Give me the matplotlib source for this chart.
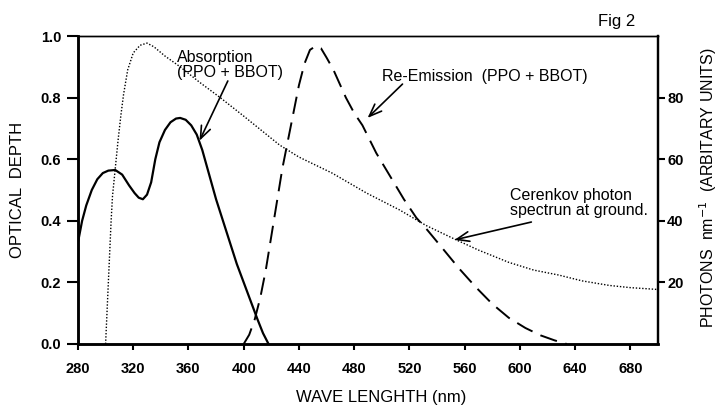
import matplotlib
matplotlib.use('Agg')
import matplotlib.pyplot as plt

plt.rcParams['font.family'] = ['Liberation Sans', 'DejaVu Sans']

# absorption (optical depth, left axis)
abs_wl = [280, 283, 286, 290, 294, 298, 302, 307, 312, 317, 321, 324, 327, 330, 333,
          336, 339, 343, 347, 351, 354, 358, 362, 366, 370, 375, 380, 385, 390, 395,
          400, 405, 410, 414, 418]
abs_od = [0.33, 0.40, 0.45, 0.50, 0.535, 0.555, 0.563, 0.565, 0.55, 0.515, 0.49, 0.475,
          0.47, 0.485, 0.525, 0.60, 0.655, 0.695, 0.72, 0.732, 0.734, 0.728, 0.71, 0.68,
          0.63, 0.55, 0.47, 0.40, 0.33, 0.26, 0.20, 0.14, 0.08, 0.035, 0.0]

# re-emission (arbitrary units, right axis)
em_wl = [400, 404, 408, 412, 416, 420, 424, 428, 432, 436, 440, 444, 448, 452, 456,
         460, 465, 470, 474, 480, 486, 496, 508, 516, 525, 533, 545, 556, 568, 580,
         592, 604, 615, 625, 634]
em_val = [0, 3, 8, 15, 24, 35, 46, 57, 66, 75, 84, 91, 95.5, 96.7, 96, 93, 89, 84, 80,
          75, 71, 62, 53, 47, 41, 37, 30.5, 24.5, 18.5, 13, 8.5, 5.2, 2.8, 1.2, 0]

# Cerenkov photon spectrum at ground (arbitrary units, right axis)
cer_wl = [300, 302, 304, 305, 307, 309, 311, 313, 316, 320, 325, 330, 335, 343, 354,
          368, 383, 400, 426, 440, 464, 489, 513, 532, 553, 570, 592, 610, 628, 645,
          665, 680, 700]
cer_val = [0, 20, 40, 48, 57, 66, 74, 81, 89, 94.5, 97, 97.7, 96.5, 93.5, 90, 85, 80,
           74, 64.6, 60.7, 55.5, 49, 43.5, 38.5, 34, 30.5, 26.5, 24, 22.4, 20.5, 19,
           18.3, 17.7]

x_ticks = [280, 320, 360, 400, 440, 480, 520, 560, 600, 640, 680]
left_ticks = [0.0, 0.2, 0.4, 0.6, 0.8, 1.0]
right_ticks = [20, 40, 60, 80]

fig = plt.figure(figsize=(7.18, 4.07), dpi=100)
ax = fig.add_axes([0.1086, 0.1548, 0.8078, 0.7567])
ax2 = ax.twinx()

ax.plot(abs_wl, abs_od, color='black', lw=1.6)
ax2.plot(em_wl, em_val, color='black', lw=1.4, dashes=(9, 4.5))
ax2.plot(cer_wl, cer_val, color='black', lw=1.0, linestyle=(0, (1, 1.3)))

ax.set_xlim(280, 700)
ax.set_ylim(0, 1.0)
ax2.set_ylim(0, 100)

ax.set_xticks(x_ticks)
ax.set_yticks(left_ticks)
ax.set_yticklabels(['%.1f' % v for v in left_ticks])
ax2.set_yticks(right_ticks)

for lab in ax.get_xticklabels() + ax.get_yticklabels() + ax2.get_yticklabels():
    lab.set_fontweight('bold')
    lab.set_fontsize(10.5)

ax.tick_params(axis='y', direction='out', length=8, width=1.5, pad=4)
ax.tick_params(axis='x', direction='out', length=4, width=1.5, pad=9)
ax2.tick_params(axis='y', direction='out', length=5, width=1.5, pad=1.5)

for a in (ax, ax2):
    a.spines['left'].set_linewidth(1.8)
    a.spines['bottom'].set_linewidth(1.8)
    a.spines['right'].set_linewidth(1.6)
    a.spines['top'].set_linewidth(1.0)

ax.set_xlabel('WAVE LENGHTH (nm)', fontsize=12)
ax.xaxis.set_label_coords(0.522, -0.149)
ax.set_ylabel('OPTICAL  DEPTH', fontsize=12)
ax.yaxis.set_label_coords(-0.0914, 0.5)
ax2.set_ylabel('PHOTONS  nm$^{-1}$  (ARBITARY UNITS)', fontsize=11.5)
ax2.yaxis.set_label_coords(1.068, 0.508)

arrow = dict(arrowstyle='->,head_length=0.9,head_width=0.35', color='black', lw=1.2,
             shrinkA=0, shrinkB=0)

ax.text(352, 0.955, 'Absorption\n(PPO + BBOT)', fontsize=11.5, va='top', ha='left',
        linespacing=1.0)
ax.annotate('', xy=(368, 0.66), xytext=(388.5, 0.854), arrowprops=arrow)

ax2.text(500.5, 86.7, 'Re-Emission  (PPO + BBOT)', fontsize=11.5, va='center', ha='left')
ax2.annotate('', xy=(489.7, 73.4), xytext=(515, 84.4), arrowprops=arrow)

ax2.text(593, 45.8, 'Cerenkov photon\nspectrun at ground.', fontsize=11.5, va='center',
         ha='left', linespacing=1.0)
ax2.annotate('', xy=(552.6, 33.8), xytext=(608.3, 39.6), arrowprops=arrow)

fig.text(0.859, 0.946, 'Fig 2', fontsize=12, ha='center', va='center')

plt.savefig('out.png', dpi=100)
